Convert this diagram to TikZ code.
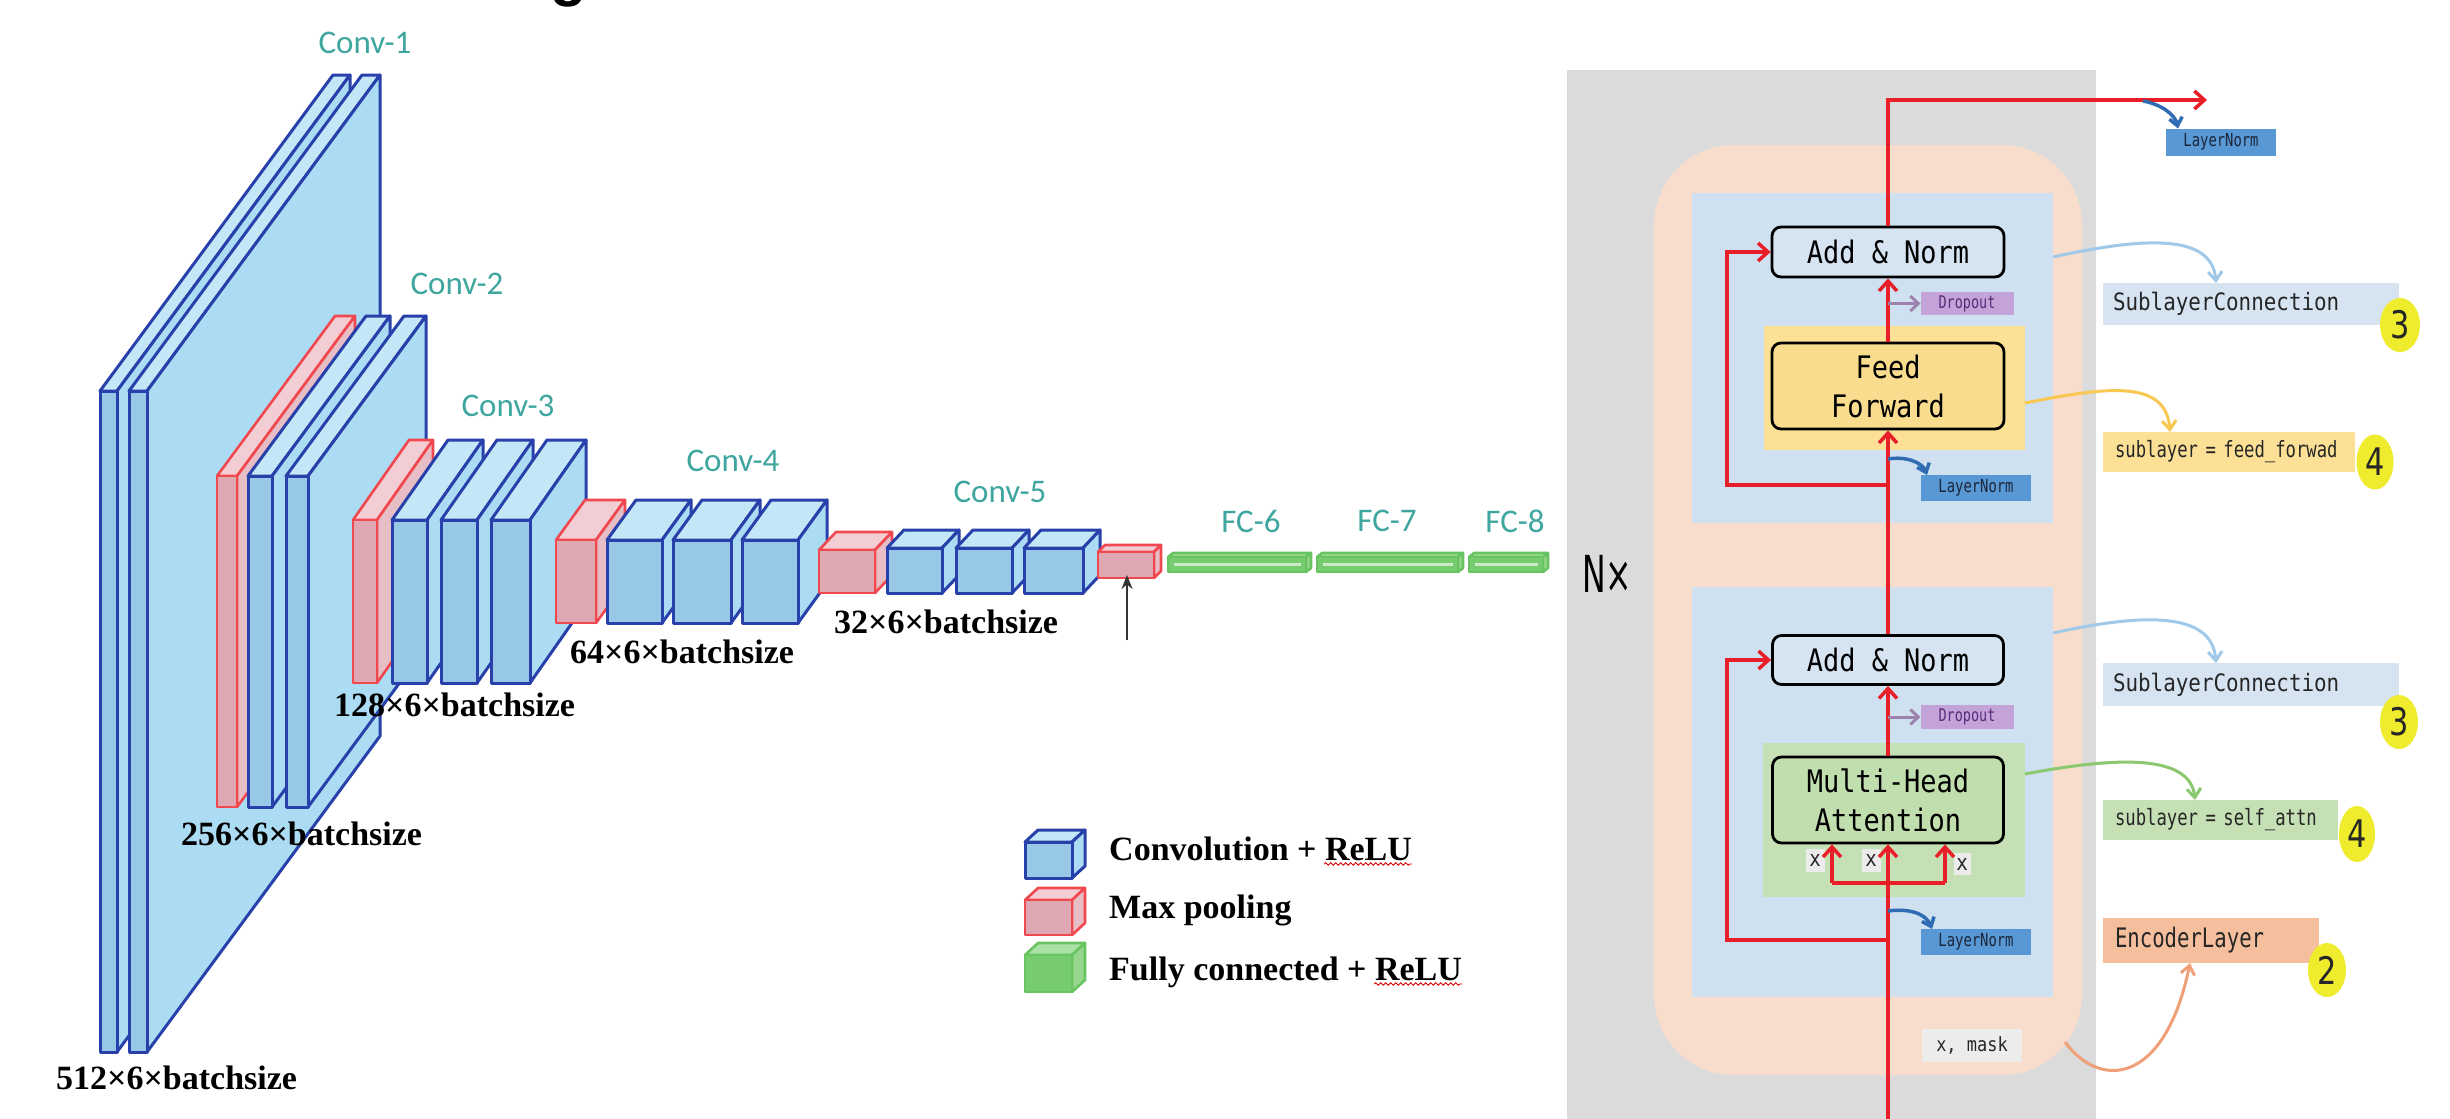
\documentclass[tikz,border=0pt]{standalone}
\usepackage{fontspec}
\usetikzlibrary{arrows.meta,shapes.geometric,decorations.pathmorphing}
\setmainfont{Liberation Serif}
\newfontfamily\tnr{Liberation Serif}
\newfontfamily\calfont{Carlito}
\newfontfamily\headf{Liberation Sans}
\newfontfamily\monoW[FakeStretch=0.87]{DejaVu Sans Mono}
\newfontfamily\monoN[FakeStretch=0.77]{DejaVu Sans Mono}
\newfontfamily\digf[FakeStretch=0.8]{DejaVu Sans}
\newfontfamily\nxfont[FakeStretch=0.62]{DejaVu Sans}
\newcommand\fsz[2]{\fontsize{#1}{#2}\selectfont}

% colours of the CNN blocks
\definecolor{tealc}{RGB}{62,166,158}
\definecolor{cborder}{RGB}{40,64,170}
\definecolor{cfrontc}{RGB}{152,200,232}
\definecolor{csidec}{RGB}{172,220,243}
\definecolor{ctopc}{RGB}{196,231,248}
\definecolor{pborder}{RGB}{240,72,78}
\definecolor{pfrontc}{RGB}{222,168,178}
\definecolor{psidec}{RGB}{232,190,198}
\definecolor{ptopc}{RGB}{242,206,212}
\definecolor{gborder}{RGB}{104,196,96}
\definecolor{gfrontc}{RGB}{120,204,112}
\definecolor{gsidec}{RGB}{150,214,142}
\definecolor{gtopc}{RGB}{170,224,164}
% colours of the encoder panel
\definecolor{panelgrey}{RGB}{220,219,220}
\definecolor{peach}{RGB}{248,221,204}
\definecolor{subbg}{RGB}{207,225,241}
\definecolor{ffbg}{RGB}{252,224,150}
\definecolor{fffill}{RGB}{250,220,142}
\definecolor{attbg}{RGB}{197,224,180}
\definecolor{attfill}{RGB}{192,222,174}
\definecolor{anfill}{RGB}{214,228,242}
\definecolor{dofill}{RGB}{196,163,216}
\definecolor{dotext}{RGB}{88,44,122}
\definecolor{lnfill}{RGB}{88,152,212}
\definecolor{lntext}{RGB}{28,38,58}
\definecolor{slcfill}{RGB}{214,228,242}
\definecolor{encfill}{RGB}{245,190,156}
\definecolor{numyel}{RGB}{238,236,44}
\definecolor{redl}{RGB}{232,30,40}
\definecolor{xfill}{RGB}{236,236,236}
\definecolor{curvLB}{RGB}{160,200,232}
\definecolor{curvY}{RGB}{248,200,80}
\definecolor{curvG}{RGB}{140,200,110}
\definecolor{curvP}{RGB}{240,160,120}
\definecolor{curvB}{RGB}{48,108,180}

% a block seen from the front left: front face, top face and right face
\newcommand\slab[7]{%
  \filldraw[#7top] (#1,#2) -- ({#1+#5},{#2+#6}) -- ({#3+#5},{#2+#6}) -- (#3,#2) -- cycle;
  \filldraw[#7side] (#3,#2) -- ({#3+#5},{#2+#6}) -- ({#3+#5},{#4+#6}) -- (#3,#4) -- cycle;
  \filldraw[#7front] (#1,#2) rectangle (#3,#4);}

\tikzset{
  cbase/.style={draw=cborder, line width=3pt, line join=round},
  ctop/.style={cbase, fill=ctopc}, cside/.style={cbase, fill=csidec}, cfront/.style={cbase, fill=cfrontc},
  pbase/.style={draw=pborder, line width=2.6pt, line join=round},
  ptop/.style={pbase, fill=ptopc}, pside/.style={pbase, fill=psidec}, pfront/.style={pbase, fill=pfrontc},
  gbase/.style={draw=gborder, line width=2.6pt, line join=round},
  gtop/.style={gbase, fill=gtopc}, gside/.style={gbase, fill=gsidec}, gfront/.style={gbase, fill=gfrontc},
  gstripe/.style={draw=gtopc!60!white, line width=3pt},
  convlbl/.style={font=\calfont\fsz{33}{36}, text=tealc, inner sep=0},
  dimlbl/.style={font=\tnr\bfseries\fsz{34}{38}, inner sep=0, anchor=west},
  legtxt/.style={font=\tnr\bfseries\fsz{34}{38}, inner sep=0, anchor=base west},
  spell/.style={draw=red!85!black, line width=0.9pt, decorate, decoration={snake, amplitude=1.2pt, segment length=5pt}},
  bgbox/.style={inner sep=0, outer sep=0, draw=none, anchor=north west},
  blkbox/.style={draw=black, line width=2.8pt, rounded corners=9pt, inner sep=0, align=center,
                 font=\monoW\fsz{31}{39}},
  flatbox/.style={inner sep=0, outer sep=0, draw=none},
  tagbox/.style={inner ysep=0, outer sep=0, draw=none, anchor=north west, align=left},
  numdot/.style={ellipse, fill=numyel, inner sep=0, font=\digf\fsz{38}{38}, text=black!85},
  redline/.style={draw=redl, line width=3.5pt},
  redarr/.style={redline, -{Straight Barb[length=10pt,width=18pt]}},
  purarr/.style={draw=dofill!80!black, line width=3pt, -{Straight Barb[length=8pt,width=15pt]}},
  bluearr/.style={draw=curvB, line width=3.5pt, -{Straight Barb[length=8pt,width=13pt]}},
  annot/.style={line width=3pt, -{Straight Barb[length=9pt,width=14pt]}},
}

\begin{document}
\begin{tikzpicture}[x=1pt, y=-1pt]
\useasboundingbox (0,0) rectangle (2450,1119);
\fill[white] (0,0) rectangle (2450,1119);

% heading, mostly outside the page
\node[font=\headf\bfseries\fsz{60}{60}, anchor=base, inner sep=0] (ttl) at (569,-6) {g};

% ---------------- CNN ----------------
% Conv-1
\slab{100}{391}{117}{1052}{233}{-316}{c}
\slab{129}{391}{147}{1052}{233}{-316}{c}
% Conv-2
\slab{217}{476}{237}{807}{118}{-160}{p}
\slab{248}{476}{272}{807}{118}{-160}{c}
\slab{286}{476}{308}{807}{118}{-160}{c}
% Conv-3
\slab{353}{520}{377}{683}{56}{-80}{p}
\slab{392}{520}{427}{683}{56}{-80}{c}
\slab{441}{520}{477}{683}{56}{-80}{c}
\slab{491}{520}{530}{683}{56}{-80}{c}
% Conv-4
\slab{556}{540}{596}{623}{29}{-40}{p}
\slab{607}{540}{662}{623}{29}{-40}{c}
\slab{673}{540}{731}{623}{29}{-40}{c}
\slab{742}{540}{798}{623}{29}{-40}{c}
% Conv-5
\slab{819}{550}{875}{593}{17}{-18}{p}
\slab{887}{548}{942}{593}{17}{-18}{c}
\slab{956}{548}{1012}{593}{17}{-18}{c}
\slab{1024}{548}{1083}{593}{17}{-18}{c}
% last pooling
\slab{1098}{552}{1154}{578}{7}{-7}{p}
% fully connected layers
\slab{1168}{557}{1306}{572}{5}{-4}{g}
\draw[gstripe] (1174,564.5) -- (1301,564.5);
\slab{1317}{557}{1458}{572}{5}{-4}{g}
\draw[gstripe] (1323,564.5) -- (1453,564.5);
\slab{1469}{557}{1543}{572}{5}{-4}{g}
\draw[gstripe] (1475,564.5) -- (1538,564.5);

\coordinate (pa) at (1127,640);
\coordinate (pb) at (1127,575);
\draw[draw=black!80, line width=2pt, -{Stealth[length=14pt,width=11pt]}] (pa) -- (pb);

\node[convlbl] (c1) at (365,43) {Conv-1};
\node[convlbl] (c2) at (457,284) {Conv-2};
\node[convlbl] (c3) at (508,406) {Conv-3};
\node[convlbl] (c4) at (733,461) {Conv-4};
\node[convlbl] (c5) at (1000,492) {Conv-5};
\node[convlbl] (f6) at (1251,521) {FC-6};
\node[convlbl] (f7) at (1387,521) {FC-7};
\node[convlbl] (f8) at (1515,521) {FC-8};

\node[dimlbl] (d512) at (56,1078) {512×6×batchsize};
\node[dimlbl] (d256) at (181,834) {256×6×batchsize};
\node[dimlbl] (d128) at (334,705) {128×6×batchsize};
\node[dimlbl] (d64) at (570,652) {64×6×batchsize};
\node[dimlbl] (d32) at (834,622) {32×6×batchsize};

% legend
\slab{1025}{842}{1072}{878}{13}{-12}{c}
\slab{1025}{900}{1072}{935}{13}{-12}{p}
\slab{1025}{955}{1072}{992}{13}{-12}{g}
\node[legtxt] (lg1) at (1109,860) {Convolution + ReLU};
\node[legtxt] (lg2) at (1109,918) {Max pooling};
\node[legtxt] (lg3) at (1109,980) {Fully connected + ReLU};
\draw[spell] ([xshift=-88pt,yshift=-4pt]lg1.base east) -- ([yshift=-4pt]lg1.base east);
\draw[spell] ([xshift=-88pt,yshift=-4pt]lg3.base east) -- ([yshift=-4pt]lg3.base east);

% ---------------- encoder ----------------
\node[bgbox, fill=panelgrey, minimum width=529pt, minimum height=1070pt] (panel) at (1567,70) {};
\node[bgbox, fill=peach, rounded corners=80pt, minimum width=428pt, minimum height=930pt] (enc) at (1654,145) {};
\node[bgbox, fill=subbg, minimum width=361pt, minimum height=330pt] (sub1bg) at (1692,193) {};
\node[bgbox, fill=subbg, minimum width=361pt, minimum height=410pt] (sub2bg) at (1692,587) {};
\node[bgbox, fill=ffbg, minimum width=261pt, minimum height=124pt] (ffbg) at (1764,326) {};
\node[bgbox, fill=attbg, minimum width=262pt, minimum height=154pt] (attbg) at (1763,743) {};

\node[font=\nxfont\fsz{51}{51}, anchor=west, inner sep=0] (nx) at (1582,574) {N×};

\node[blkbox, fill=anfill, minimum width=232pt, minimum height=50pt] (an1) at (1888,252) {Add \& Norm};
\node[blkbox, fill=fffill, minimum width=232pt, minimum height=86pt] (ff) at (1888,386) {Feed\\Forward};
\node[blkbox, fill=anfill, minimum width=231pt, minimum height=49pt] (an2) at (1888,660) {Add \& Norm};
\node[blkbox, fill=attfill, minimum width=231pt, minimum height=86pt] (mha) at (1888,800) {Multi-Head\\Attention};

\node[flatbox, fill=dofill, text=dotext, font=\monoN\fsz{17.5}{20}, minimum width=93pt, minimum height=23pt] (do1) at (1967,303.5) {Dropout};
\node[flatbox, fill=dofill, text=dotext, font=\monoN\fsz{17.5}{20}, minimum width=93pt, minimum height=24pt] (do2) at (1967,717) {Dropout};
\node[flatbox, fill=lnfill, text=lntext, font=\monoN\fsz{18}{20}, minimum width=110pt, minimum height=26pt] (ln1) at (1976,488) {LayerNorm};
\node[flatbox, fill=lnfill, text=lntext, font=\monoN\fsz{18}{20}, minimum width=110pt, minimum height=26pt] (ln2) at (1976,942) {LayerNorm};
\node[flatbox, fill=lnfill, text=lntext, font=\monoN\fsz{18}{20}, minimum width=110pt, minimum height=27pt] (lnT) at (2221,142) {LayerNorm};
\node[flatbox, fill=xfill, text=black!85, font=\monoW\fsz{19.5}{22}, minimum width=100pt, minimum height=33pt] (xm) at (1972,1045) {x, mask};
\node[flatbox, fill=xfill, text=black!85, font=\monoW\fsz{22}{22}, minimum width=19pt, minimum height=23pt] (x1) at (1815,860) {x};
\node[flatbox, fill=xfill, text=black!85, font=\monoW\fsz{22}{22}, minimum width=19pt, minimum height=23pt] (x2) at (1871,860) {x};
\node[flatbox, fill=xfill, text=black!85, font=\monoW\fsz{22}{22}, minimum width=17pt, minimum height=22pt] (x3) at (1962,864) {x};

% class names beside the panel
\node[tagbox, fill=slcfill, text=black!85, font=\monoW\fsz{24}{28}, text width=276pt, inner xsep=10pt, minimum height=42pt] (slc1) at (2103,283) {SublayerConnection};
\node[tagbox, fill=ffbg, text=black!85, font=\monoN\fsz{22.4}{26}, text width=228pt, inner xsep=12pt, minimum height=40pt] (sff) at (2103,432) {sublayer = feed\_forwad};
\node[tagbox, fill=slcfill, text=black!85, font=\monoW\fsz{24}{28}, text width=276pt, inner xsep=10pt, minimum height=43pt] (slc2) at (2103,663) {SublayerConnection};
\node[tagbox, fill=attbg, text=black!85, font=\monoN\fsz{22.4}{26}, text width=211pt, inner xsep=12pt, minimum height=40pt] (ssa) at (2103,800) {sublayer = self\_attn};
\node[tagbox, fill=encfill, text=black!85, font=\monoN\fsz{26.8}{30}, text width=192pt, inner xsep=12pt, minimum height=45pt] (encl) at (2103,918) {EncoderLayer};

\node[numdot, minimum width=40pt, minimum height=54pt] (n3a) at (2400,325) {3};
\node[numdot, minimum width=37pt, minimum height=55pt] (n4a) at (2375,462) {4};
\node[numdot, minimum width=38pt, minimum height=54pt] (n3b) at (2399,722) {3};
\node[numdot, minimum width=36pt, minimum height=56pt] (n4b) at (2357,834) {4};
\node[numdot, minimum width=38pt, minimum height=54pt] (n2) at (2327,970) {2};

% residual stream
\coordinate (inbot) at (1888,1135);
\coordinate (brL) at (1832,883);
\coordinate (brR) at (1945,883);
\coordinate (topc) at (1888,100);
\coordinate (outr) at (2207,100);
\coordinate (res2a) at (1888,940);
\coordinate (res2b) at (1727,940);
\coordinate (res1a) at (1888,485);
\coordinate (res1b) at (1727,485);

\draw[redarr] (inbot) -- (mha.south);
\draw[redline] (brL) -- (brR);
\draw[redarr] (brL) -- (brL |- mha.south);
\draw[redarr] (brR) -- (brR |- mha.south);
\draw[redarr] (mha.north) -- (an2.south);
\draw[redarr] (an2.north) -- (ff.south);
\draw[redarr] (ff.north) -- (an1.south);
\draw[redarr] (an1.north) -- (topc) -- (outr);
\draw[redarr] (res2a) -- (res2b) |- (an2.west);
\draw[redarr] (res1a) -- (res1b) |- (an1.west);

\draw[purarr] (an2.south |- do2.west) -- (do2.west);
\draw[purarr] (an1.south |- do1.west) -- (do1.west);

\draw[bluearr] (1888,911) .. controls (1910,908) and (1926,914) .. ([xshift=11pt]ln2.north west);
\draw[bluearr] (1888,459) .. controls (1905,456) and (1922,462) .. ([xshift=6pt]ln1.north west);
\draw[bluearr] (2143,101) .. controls (2160,104) and (2175,114) .. ([xshift=12pt]lnT.north west);

% pointers to the class names
\draw[annot, draw=curvLB] ([yshift=-64pt]sub1bg.north east) .. controls (2140,238) and (2212,232) .. ([xshift=113pt]slc1.north west);
\draw[annot, draw=curvY] ([yshift=-77pt]ffbg.north east) .. controls (2110,386) and (2166,380) .. ([xshift=67pt]sff.north west);
\draw[annot, draw=curvLB] ([yshift=-46pt]sub2bg.north east) .. controls (2140,614) and (2212,610) .. ([xshift=113pt]slc2.north west);
\draw[annot, draw=curvG] ([yshift=-31pt]attbg.north east) .. controls (2110,758) and (2190,752) .. ([xshift=92pt]ssa.north west);
\draw[annot, draw=curvP] ([xshift=43pt,yshift=3pt]xm.east) .. controls (2100,1090) and (2165,1085) .. ([xshift=87pt]encl.south west);

\end{tikzpicture}
\end{document}
